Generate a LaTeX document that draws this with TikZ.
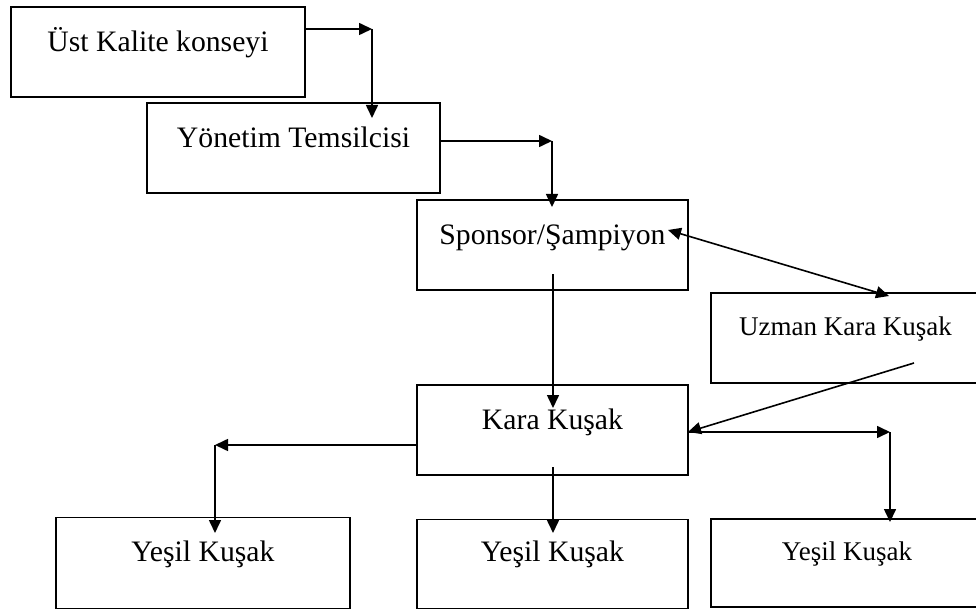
\documentclass[tikz,border=0pt]{standalone}
\usepackage{fontspec}
\setmainfont{Liberation Serif}
\usetikzlibrary{arrows.meta}

\tikzset{
  box/.style={draw, line width=1.8pt, inner sep=0pt, anchor=center},
  big/.style={font=\fontsize{29.7}{32}\selectfont},
  small/.style={font=\fontsize{27}{30}\selectfont},
  conn/.style={line width=1.6pt, -{Triangle[length=13pt,width=12pt]}},
  conn2/.style={line width=1.6pt, {Triangle[length=13pt,width=12pt]}-{Triangle[length=13pt,width=12pt]}},
  plain/.style={line width=1.6pt}
}

\begin{document}
\begin{tikzpicture}[x=1pt, y=-1pt]
\useasboundingbox (0,0) rectangle (976,612);

% boxes of the hierarchy
\node[box, big, minimum width=294pt, text height=45pt, text depth=45pt] (ust) at (158,52) {Üst Kalite konseyi};
\node[box, big, minimum width=293pt, text height=45pt, text depth=45pt] (yon) at (293.5,148) {Yönetim Temsilcisi};
\node[box, big, minimum width=271pt, text height=44pt, text depth=46pt] (spo) at (552.5,245) {Sponsor/Şampiyon};
\node[box, small, minimum width=269pt, text height=42pt, text depth=48pt] (uzm) at (845.5,338) {Uzman Kara Kuşak};
\node[box, big, minimum width=271pt, text height=44pt, text depth=46pt] (kar) at (552.5,430) {Kara Kuşak};
\node[box, big, minimum width=294pt, text height=44pt, text depth=47pt] (ye1) at (203,563) {Yeşil Kuşak};
\node[box, big, minimum width=271pt, text height=42pt, text depth=47pt] (ye2) at (552.5,564) {Yeşil Kuşak};
\node[box, small, minimum width=272pt, text height=41pt, text depth=47pt] (ye3) at (847,563) {Yeşil Kuşak};

% bends and free ends of the connectors
\coordinate (c1) at (372,29);
\coordinate (c1e) at (372,118);
\coordinate (c2) at (552,141);
\coordinate (c2e) at (552,207);
\coordinate (s1) at (668,230);
\coordinate (s2) at (889,296);
\coordinate (d1) at (553,274);
\coordinate (d1e) at (553,408);
\coordinate (u1) at (914,363);
\coordinate (u1e) at (688,432);
\coordinate (r1) at (890,432);
\coordinate (r1e) at (890,522);
\coordinate (l1) at (215,445);
\coordinate (l1e) at (215,533);
\coordinate (m1) at (553,467);
\coordinate (m1e) at (553,533);

% connectors
\draw[conn] (c1 -| ust.east) -- (c1);
\draw[conn] (c1) -- (c1e);
\draw[conn] (c2 -| yon.east) -- (c2);
\draw[conn] (c2) -- (c2e);
\draw[conn2] (s1) -- (s2);
\draw[conn] (d1) -- (d1e);
\draw[conn] (u1) -- (u1e);
\draw[conn] (r1 -| kar.east) -- (r1);
\draw[conn] (r1) -- (r1e);
\draw[conn] (l1 -| kar.west) -- (l1);
\draw[conn] (l1) -- (l1e);
\draw[conn] (m1) -- (m1e);
\end{tikzpicture}
\end{document}
